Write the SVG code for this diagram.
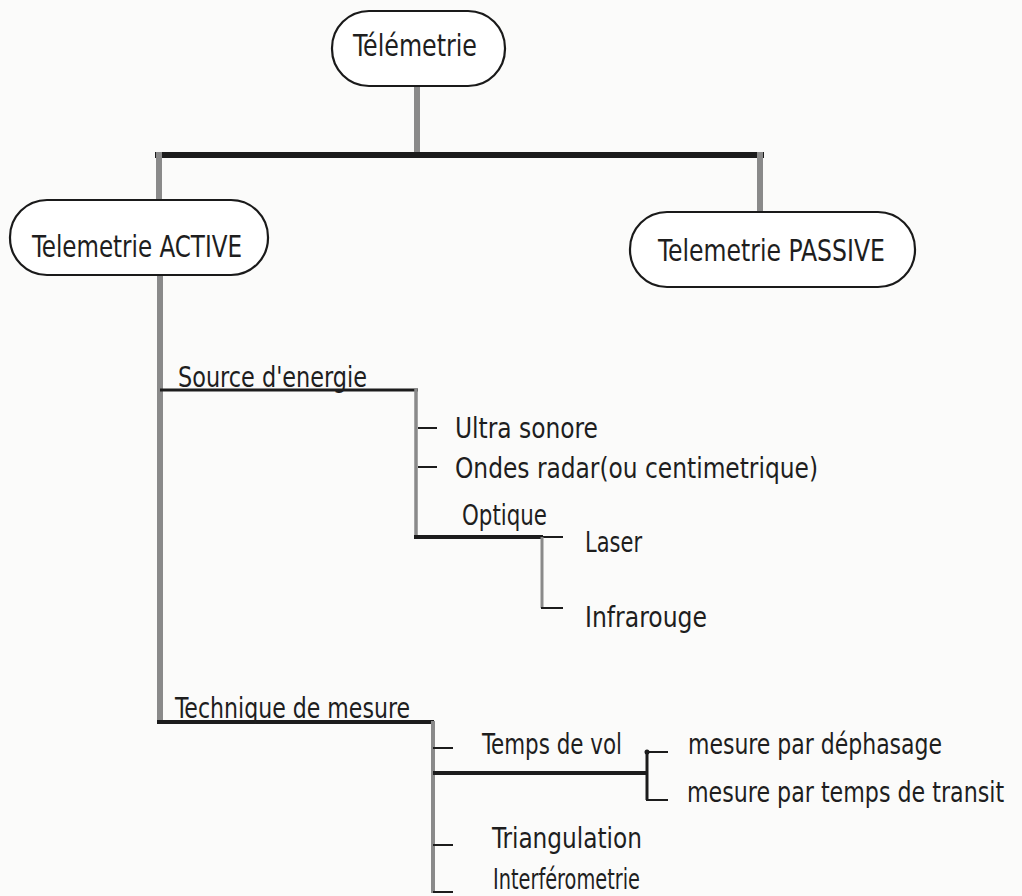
<svg xmlns="http://www.w3.org/2000/svg" width="1022" height="896" viewBox="0 0 1022 896">
<style>
text{font-family:"DejaVu Sans Condensed","DejaVu Sans",sans-serif;fill:#1e1e1e;font-size:29px}
.box{fill:#fff;stroke:#1a1a1a;stroke-width:2.2}
.big{font-size:31px}
.gray{stroke:#8a8a8a;fill:none}
.dark{stroke:#1c1c1c;fill:none}
.tick{stroke:#1c1c1c;stroke-width:2;fill:none}
</style>
<rect width="1022" height="896" fill="#fbfbfa"/>
<g id="connectors">
<line class="gray" x1="417" y1="86" x2="417" y2="155" stroke-width="6"/>
<line class="dark" x1="155" y1="155" x2="764" y2="155" stroke-width="6"/>
<line class="gray" x1="159" y1="152" x2="159" y2="200" stroke-width="6"/>
<line class="gray" x1="760" y1="152" x2="760" y2="212" stroke-width="6"/>
<line class="gray" x1="160" y1="275" x2="160" y2="724" stroke-width="6"/>
<line class="dark" x1="160" y1="390" x2="418" y2="390" stroke-width="3"/>
<line class="gray" x1="416" y1="389" x2="416" y2="537" stroke-width="3.5"/>
<line class="tick" x1="418" y1="428" x2="437" y2="428"/>
<line class="tick" x1="418" y1="467" x2="437" y2="467"/>
<line class="dark" x1="414" y1="537" x2="543" y2="537" stroke-width="4"/>
<line class="tick" x1="542" y1="537" x2="563" y2="537"/>
<line class="gray" x1="542" y1="537" x2="542" y2="608" stroke-width="3"/>
<line class="tick" x1="541" y1="608" x2="563" y2="608"/>
<line class="dark" x1="157" y1="722" x2="434" y2="722" stroke-width="4"/>
<line class="gray" x1="433" y1="721" x2="433" y2="893" stroke-width="4"/>
<line class="tick" x1="433" y1="748" x2="453" y2="748"/>
<line class="tick" x1="433" y1="845" x2="453" y2="845"/>
<line class="tick" x1="433" y1="892" x2="453" y2="892"/>
<line class="dark" x1="433" y1="773" x2="647" y2="773" stroke-width="4"/>
<line class="dark" x1="647" y1="752" x2="647" y2="800" stroke-width="3"/>
<line class="tick" x1="647" y1="752" x2="668" y2="752"/>
<line class="tick" x1="646" y1="800" x2="668" y2="800"/>
<circle cx="647" cy="752" r="2.5" fill="#1c1c1c"/>
</g>
<g id="telemetrie">
<rect class="box" x="332" y="11" width="173" height="75" rx="37" ry="37"/>
<text class="big" x="353" y="56" textLength="124" lengthAdjust="spacingAndGlyphs">Télémetrie</text>
</g>
<g id="active">
<rect class="box" x="10" y="200" width="258" height="75" rx="37" ry="37"/>
<text class="big" x="32" y="257" textLength="210" lengthAdjust="spacingAndGlyphs">Telemetrie ACTIVE</text>
</g>
<g id="passive">
<rect class="box" x="630" y="212" width="285" height="75" rx="37" ry="37"/>
<text class="big" x="658" y="261" textLength="227" lengthAdjust="spacingAndGlyphs">Telemetrie PASSIVE</text>
</g>
<g id="source">
<text x="178" y="387" textLength="189" lengthAdjust="spacingAndGlyphs">Source d'energie</text>
</g>
<g id="ultra">
<text x="455" y="438" textLength="143" lengthAdjust="spacingAndGlyphs">Ultra sonore</text>
</g>
<g id="ondes">
<text x="455" y="478" textLength="363" lengthAdjust="spacingAndGlyphs">Ondes radar(ou centimetrique)</text>
</g>
<g id="optique">
<text x="462" y="525" textLength="85" lengthAdjust="spacingAndGlyphs">Optique</text>
</g>
<g id="laser">
<text x="585" y="552" textLength="57" lengthAdjust="spacingAndGlyphs">Laser</text>
</g>
<g id="infrarouge">
<text x="585" y="627" textLength="122" lengthAdjust="spacingAndGlyphs">Infrarouge</text>
</g>
<g id="technique">
<text x="175" y="718" textLength="235" lengthAdjust="spacingAndGlyphs">Technique de mesure</text>
</g>
<g id="temps">
<text x="482" y="754" textLength="140" lengthAdjust="spacingAndGlyphs">Temps de vol</text>
</g>
<g id="dephasage">
<text x="688" y="754" textLength="254" lengthAdjust="spacingAndGlyphs">mesure par déphasage</text>
</g>
<g id="transit">
<text transform="translate(687,802) scale(0.85,1)" x="0" y="0">mesure par temps de transit</text>
</g>
<g id="triangulation">
<text x="492" y="848" textLength="150" lengthAdjust="spacingAndGlyphs">Triangulation</text>
</g>
<g id="interferometrie">
<text x="493" y="889" textLength="147" lengthAdjust="spacingAndGlyphs">Interférometrie</text>
</g>
</svg>
